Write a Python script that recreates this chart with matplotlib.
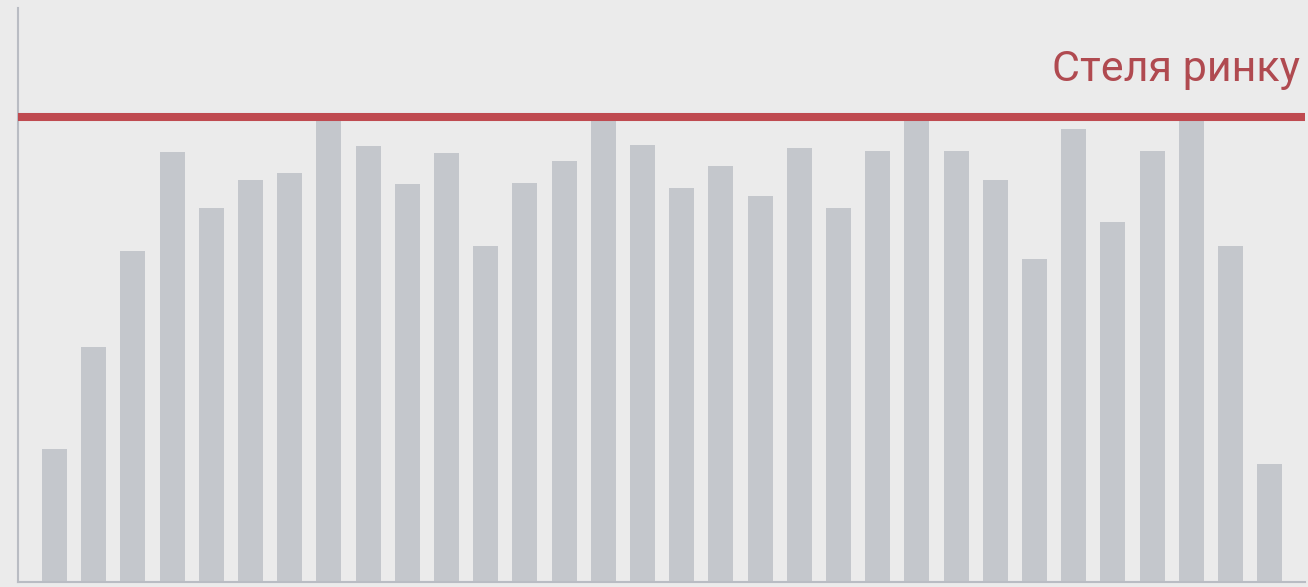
import matplotlib
matplotlib.use("Agg")
import matplotlib.pyplot as plt
import numpy as np

# Висоти стовпців (умовні одиниці) та рівень стелі ринку
heights = [133, 235, 331, 430, 374, 402, 409, 462, 436, 398, 429, 336, 399, 421,
           462, 437, 394, 416, 386, 434, 374, 431, 462, 431, 402, 323, 453, 360,
           431, 462, 336, 118]
ceiling = 465
ceiling_label = "Стеля ринку"

BG = "#ebebeb"
BAR = "#c4c7cc"
RED = "#bf4a50"
TEXT_RED = "#b04a50"
AXIS = "#b9bcc3"

fig = plt.figure(figsize=(13.08, 5.87), dpi=100)
fig.patch.set_facecolor(BG)
ax = fig.add_axes([18 / 1308, 5 / 587, (1305 - 18) / 1308, (582 - 8) / 587])
ax.set_facecolor(BG)

x = np.arange(len(heights))
ax.bar(x, heights, width=0.64, color=BAR, zorder=2)
ax.axhline(ceiling, color=RED, linewidth=5.8, zorder=3)
ax.text(0.996, ceiling + 47, ceiling_label, transform=ax.get_yaxis_transform(),
        ha="right", va="center", fontsize=31, color=TEXT_RED, family="Roboto")

ax.set_xlim(-0.93, 31.9)
ax.set_ylim(0, 574)
ax.set_xticks([])
ax.set_yticks([])
for side in ("top", "right"):
    ax.spines[side].set_visible(False)
for side in ("left", "bottom"):
    ax.spines[side].set_color(AXIS)
    ax.spines[side].set_linewidth(1.5)

fig.savefig("out.png", dpi=100, facecolor=BG)
